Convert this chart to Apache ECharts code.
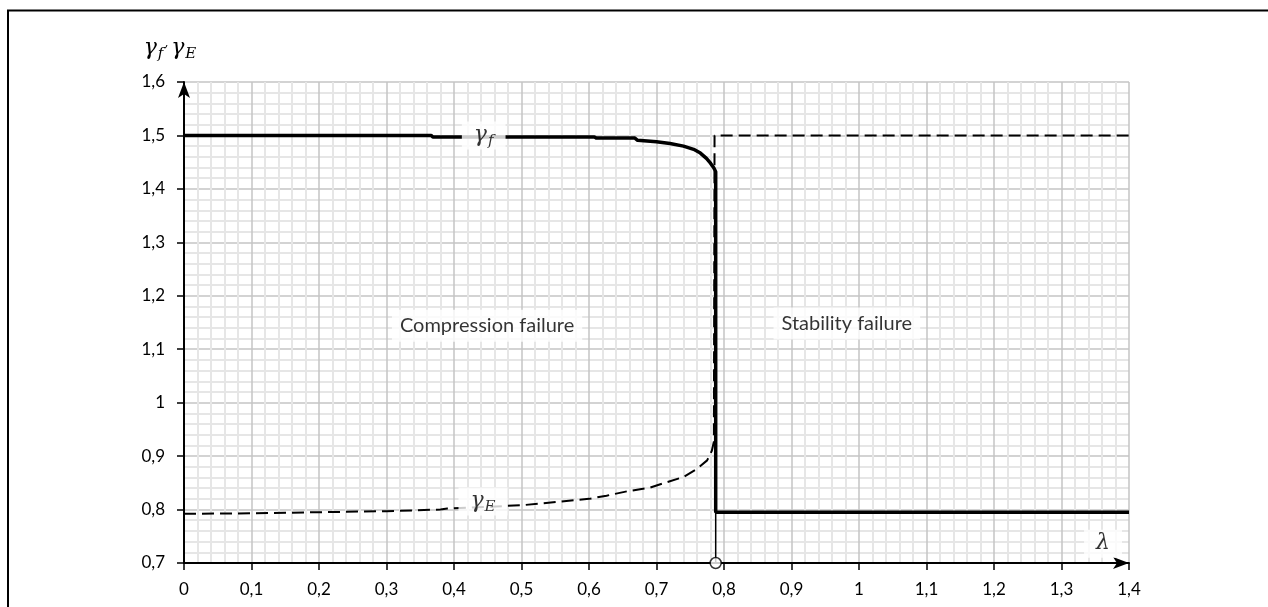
<!DOCTYPE html>
<html>
<head>
<meta charset="utf-8">
<title>γf, γE vs λ</title>
<script src="https://cdn.jsdelivr.net/npm/echarts@6/dist/echarts.min.js"></script>
<style>
  html, body { margin: 0; padding: 0; background: #fff; }
  #chart { width: 1268px; height: 607px; }
</style>
</head>
<body>
<div id="chart"></div>
<script>
// Tick labels (decimal comma)
const xTickLabels = ['0', '0,1', '0,2', '0,3', '0,4', '0,5', '0,6', '0,7', '0,8', '0,9', '1', '1,1', '1,2', '1,3', '1,4'];
const yTickLabels = ['0,7', '0,8', '0,9', '1', '1,1', '1,2', '1,3', '1,4', '1,5', '1,6'];

// Critical slenderness where the failure mode switches
const lambdaCrit = 0.7877;

// Partial factor γf : [λ, γf]
const gammaF = [
  [0, 1.5], [0.366, 1.5], [0.369, 1.497], [0.608, 1.497], [0.611, 1.495],
  [0.668, 1.495], [0.672, 1.491], [0.70, 1.488], [0.72, 1.485], [0.74, 1.48],
  [0.755, 1.474], [0.765, 1.467], [0.774, 1.457], [0.780, 1.448], [0.785, 1.439],
  [lambdaCrit, 1.432], [lambdaCrit, 0.795], [1.4, 0.795]
];

// Partial factor γE : [λ, γE]
const gammaE = [
  [0, 0.792], [0.1, 0.793], [0.2, 0.795], [0.3, 0.797], [0.38, 0.8], [0.39, 0.802],
  [0.5, 0.808], [0.6, 0.82], [0.626, 0.826], [0.656, 0.834], [0.69, 0.841],
  [0.715, 0.851], [0.74, 0.861], [0.76, 0.876], [0.775, 0.892], [0.782, 0.91],
  [0.785, 0.927], [0.786, 1.5], [1.4, 1.5]
];

// Boundary marker from the γf plateau down to the λ axis
const divider = [[lambdaCrit, 0.795], [lambdaCrit, 0.7]];

// Text annotations anchored in data coordinates
const notes = [
  { at: [0.444, 1.5],   text: '{g|γ}{s|f}',          kind: 'sym' },
  { at: [0.443, 0.815], text: '{g|γ}{s|E}',          kind: 'sym' },
  { at: [0.449, 1.144], text: 'Compression failure', kind: 'txt' },
  { at: [0.982, 1.148], text: 'Stability failure',   kind: 'txt' },
  { at: [1.3615, 0.736], text: '{g|λ}',              kind: 'sym' }
];

const serif = 'DejaVu Serif';
const sans = 'Lato';
const symRich = {
  g: { fontFamily: serif, fontStyle: 'italic', fontSize: 22, color: '#000', lineHeight: 28 },
  s: { fontFamily: serif, fontStyle: 'italic', fontSize: 15, color: '#000', lineHeight: 28, padding: [12, 0, 0, 1] },
  c: { fontFamily: serif, fontSize: 12, color: '#000', lineHeight: 28, padding: [0, 3, 10, 1] }
};

const chart = echarts.init(document.getElementById('chart'), null, { renderer: 'canvas' });

const noteData = notes.map(n => ({
  value: n.at,
  label: n.kind === 'sym'
    ? { show: true, position: 'inside', formatter: n.text, rich: symRich,
        fontFamily: serif, fontStyle: 'italic', fontSize: 22, color: '#000',
        backgroundColor: '#fff', padding: [0, 12, 0, 12] }
    : { show: true, position: 'inside', formatter: n.text, fontFamily: sans, fontSize: 20,
        color: '#000', backgroundColor: '#fff', padding: [6, 8, 6, 8] }
}));

const option = {
  animation: false,
  backgroundColor: '#fff',
  grid: { left: 184, right: 139, top: 82, bottom: 44, containLabel: false },
  xAxis: {
    type: 'value', min: 0, max: 1.4, interval: 0.1,
    axisLine: { show: true, onZero: false, lineStyle: { color: '#000', width: 2 },
                symbol: ['none', 'arrow'], symbolSize: [9, 16] },
    axisTick: { show: true, length: 7, lineStyle: { color: '#000', width: 1.5 } },
    axisLabel: { margin: 18, color: '#000', fontFamily: sans, fontSize: 17,
                 formatter: v => xTickLabels[Math.round(v * 10)] },
    splitLine: { show: true, lineStyle: { color: '#c4c4c4', width: 1.5 } },
    minorTick: { show: true, splitNumber: 5, length: 0 },
    minorSplitLine: { show: true, lineStyle: { color: '#e6e6e6', width: 2 } }
  },
  yAxis: {
    type: 'value', min: 0.7, max: 1.6, interval: 0.1,
    name: '{g|γ}{s|f}{c|,}{g|γ}{s|E}',
    nameLocation: 'end', nameGap: 20,
    nameTextStyle: { align: 'center', padding: [0, 28, 0, 0], rich: symRich,
                     fontFamily: serif, fontStyle: 'italic', fontSize: 22, color: '#000' },
    axisLine: { show: true, onZero: false, lineStyle: { color: '#000', width: 2 },
                symbol: ['none', 'arrow'], symbolSize: [9, 16] },
    axisTick: { show: true, length: 7, lineStyle: { color: '#000', width: 1.5 } },
    axisLabel: { margin: 19, color: '#000', fontFamily: sans, fontSize: 17,
                 formatter: v => yTickLabels[Math.round((v - 0.7) * 10)] },
    splitLine: { show: true, lineStyle: { color: '#c4c4c4', width: 1.5 } },
    minorTick: { show: true, splitNumber: 5, length: 0 },
    minorSplitLine: { show: true, lineStyle: { color: '#e6e6e6', width: 2 } }
  },
  graphic: [{
    type: 'polyline', silent: true, z: 100,
    shape: { points: [[8, 607], [8, 10.5], [1268, 10.5]] },
    style: { stroke: '#000', lineWidth: 2, fill: null }
  }],
  series: [
    {
      name: 'γE', type: 'line', data: gammaE, showSymbol: false, symbol: 'none',
      lineStyle: { color: '#000', width: 2, type: [12, 6] }, z: 3, silent: true
    },
    {
      name: 'γf', type: 'line', data: gammaF, showSymbol: false, symbol: 'none',
      lineStyle: { color: '#000', width: 3.5 }, z: 4, silent: true
    },
    {
      name: 'divider', type: 'line', data: divider, showSymbol: false, symbol: 'none',
      lineStyle: { color: '#000', width: 1.5 }, z: 4, silent: true
    },
    {
      name: 'λcrit', type: 'scatter', data: [divider[1]], symbol: 'circle', symbolSize: 11,
      itemStyle: { color: '#fff', borderColor: '#000', borderWidth: 1.5 }, z: 6, clip: false, silent: true
    },
    {
      name: 'notes', type: 'scatter', data: noteData, symbolSize: 0, z: 8, clip: false, silent: true
    }
  ]
};

chart.setOption(option);
</script>
</body>
</html>
